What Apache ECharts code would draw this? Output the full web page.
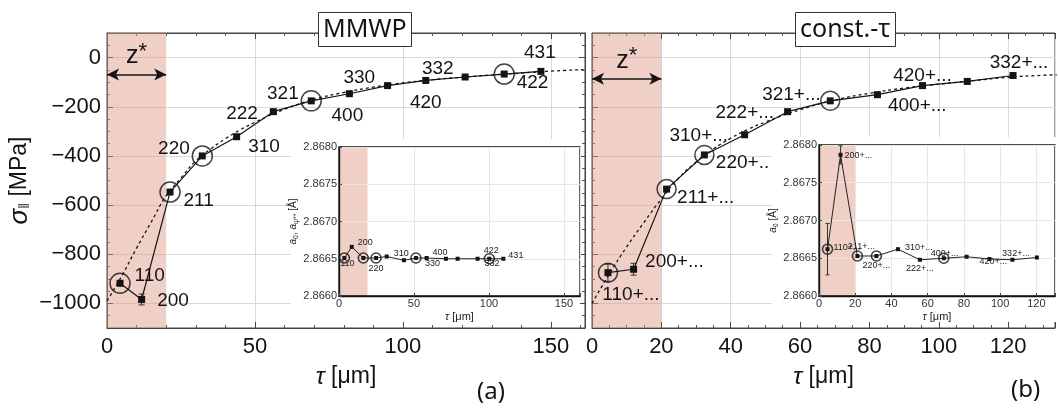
<!DOCTYPE html>
<html><head><meta charset="utf-8">
<script src="https://cdn.jsdelivr.net/npm/echarts@6/dist/echarts.min.js"></script>
<style>html,body{margin:0;padding:0;background:#fff}#c{width:1058px;height:409px}</style>
</head><body><div id="c"></div><script>
// ---------------- DATA ----------------
// Panel (a) main: sigma_par [MPa] vs tau [um], MMWP
const hklA = ['110','200','211','220','310','222','321','400','330','420','332','422','431'];
const tauA = [4.4, 11.7, 21.3, 32.2, 43.8, 56.2, 69.0, 81.9, 94.8, 107.7, 121.0, 134.2, 146.6];
const sigmaA = [-918, -984, -547, -400, -322, -220, -176, -147, -114, -93, -79, -67, -56];
const sigmaErrA = [10, 22, 0, 0, 0, 0, 0, 0, 0, 0, 0, 0, 0];
const circledA = ['110','211','220','321','422'];
const fitTauA = [0, 5, 10, 15, 20, 25, 30, 35, 40, 45, 50, 60, 70, 80, 90, 100, 110, 120, 130, 140, 150, 161];
const fitSigmaA = [-990, -888, -775, -668, -562, -490, -420, -372, -330, -294, -263, -210, -170, -142, -120, -103, -90, -80, -71, -63, -55, -49];

// Panel (a) inset: a0, a_psi** [A] vs tau [um]
const insetHklA = ['110','200','','220','310','','','400','330','','332','422','431'];
const insetTauA = [3.6, 8.5, 16.2, 24.7, 31.8, 43.3, 51.3, 58.4, 71.3, 79.1, 92.4, 100.2, 109.6];
const insetA0A = [2.86651, 2.86666, 2.86651, 2.86651, 2.86653, 2.86648, 2.86651, 2.86651, 2.86650, 2.86650, 2.86650, 2.86650, 2.86650];
const insetCircledIdxA = [0, 2, 3, 6, 11];

// Panel (b) main: const.-tau
const hklB = ['110+...','200+...','211+...','220+..','310+...','222+...','321+...','400+...','420+...','','332+...'];
const tauB = [4.6, 12.0, 21.5, 32.4, 44.0, 56.4, 68.7, 82.3, 95.3, 108.2, 121.4];
const sigmaB = [-875, -861, -535, -396, -314, -220, -176, -151, -114, -97, -73];
const sigmaErrB = [35, 24, 0, 0, 0, 0, 0, 0, 0, 0, 0];
const circledIdxB = [0, 2, 3, 6];
const fitTauB = [0, 5, 10, 15, 20, 25, 30, 35, 40, 45, 50, 60, 70, 80, 90, 100, 110, 120, 130, 134];
const fitSigmaB = [-1000, -880, -770, -670, -575, -490, -425, -372, -328, -292, -262, -212, -173, -145, -124, -108, -94, -80, -72, -70];

// Panel (b) inset: a0 [A]
const insetHklB = ['110+...','200+...','211+...','220+...','310+...','222+...','','400+...','420+...','','332+...'];
const insetTauB = [4.7, 11.9, 21.2, 31.7, 43.6, 55.7, 68.9, 81.5, 94.1, 106.8, 120.3];
const insetA0B = [2.86662, 2.86787, 2.86653, 2.86653, 2.86662, 2.86648, 2.86650, 2.86652, 2.86649, 2.86648, 2.86651];
const insetErrB = [0.00034, 0.00012, 0, 0, 0, 0, 0, 0, 0, 0, 0];
const insetCircledIdxB = [0, 2, 3, 6];

// shaded z* zones and annotations
const zZoneMain = [0, 20];
const zZoneInsetA = [0, 19];
const zZoneInsetB = [0, 20];
const zArrowY = [-69, -86];
const a0Ref = 2.8665;

// ---------------- STYLE (label placement) ----------------
const placeA = [['right',6,-7],['right',7,1],['right',5,9],['left',-4,-7],['right',3,10],['left',-7,2],['left',-4,-7],
  ['bottom',-2,4],['left',-4,-8],['bottom',0,4],['left',-3,-8],['right',4,9],['top',-1,-1]];
const placeB = [['bottom',23,4],['right',3,-7],['right',2,9],['right',3,8],['left',-8,1],['left',-5,1],['left',-1,-6],
  ['right',2,11],['top',0,8],null,['top',6,5]];
const placeInsetA = [['bottom',3,-4],['right',1,-4],null,['bottom',0,1],['right',2,-3],null,null,['right',1,-5],
  ['left',-1,5],null,['right',2,5],['top',2,1],['right',0,-3]];
const placeInsetB = [['right',1,-2],['right',-1,1],['top',4,0],['bottom',0,0],['right',2,-2],['bottom',0,-1],null,
  ['left',-3,-3],['bottom',4,-7],null,['left',-2,-4]];

const FONT = '"Liberation Sans", Arial, sans-serif';
const INK = '#141414';

function ptData(taus, vals, labels, places) {
  return taus.map((t, i) => {
    const p = places[i];
    const d = { value: [t, vals[i]] };
    if (labels[i] && p) d.label = { show: true, formatter: labels[i], position: p[0], offset: [p[1], p[2]] };
    return d;
  });
}
function errData(taus, vals, errs) {
  const out = [];
  taus.forEach((t, i) => { if (errs[i] > 0) out.push([t, vals[i] - errs[i], vals[i] + errs[i]]); });
  return out;
}
function errRender(cap) {
  return function (params, api) {
    const x = api.value(0), lo = api.value(1), hi = api.value(2);
    const a = api.coord([x, lo]), b = api.coord([x, hi]);
    const st = { stroke: '#333', lineWidth: 1 };
    return { type: 'group', children: [
      { type: 'line', shape: { x1: a[0], y1: a[1], x2: b[0], y2: b[1] }, style: st },
      { type: 'line', shape: { x1: a[0] - cap, y1: a[1], x2: a[0] + cap, y2: a[1] }, style: st },
      { type: 'line', shape: { x1: b[0] - cap, y1: b[1], x2: b[0] + cap, y2: b[1] }, style: st }
    ]};
  };
}
function stepFmt(step, f) {
  return v => { const k = Math.round(v / step); if (Math.abs(v - k * step) > step * 1e-6) return ''; return f ? f(v) : String(v); };
}
const minusFmt = v => (v < 0 ? '\u2212' + Math.abs(v) : String(v));

const mainTick = { show: true, inside: true, length: 6, lineStyle: { color: '#444' } };
const mainMinor = (n) => ({ show: true, splitNumber: n, length: 3, lineStyle: { color: '#555' } });
const mainSplit = { show: true, lineStyle: { color: '#d9d9d9', width: 1 } };
const insetSplit = { show: true, lineStyle: { color: '#e6e6e6', width: 1 } };
const axLine = { show: true, onZero: false, lineStyle: { color: '#444', width: 1 } };
const inAxLine = { show: true, onZero: false, lineStyle: { color: '#111', width: 1.3 } };

const zArrowLabel = {
  show: true, position: 'middle', distance: 2, formatter: '{z|z}{s|*}',
  rich: { z: { fontSize: 25, fontFamily: FONT, color: INK }, s: { fontSize: 22, fontFamily: FONT, color: INK, padding: [0, 0, 10, 0] } }
};
const shade = 'rgba(222,150,128,0.45)';

const option = {
  animation: false,
  backgroundColor: '#fff',
  title: [
    { text: 'MMWP', left: 318, top: 12, padding: [3, 5, 2, 5], backgroundColor: '#fff', borderColor: '#333', borderWidth: 1,
      textStyle: { fontFamily: '"Noto Sans"', fontSize: 25, fontWeight: 'normal', color: INK, lineHeight: 30 } },
    { text: 'const.-\u03c4', left: 795, top: 12, padding: [3, 5, 2, 5], backgroundColor: '#fff', borderColor: '#333', borderWidth: 1,
      textStyle: { fontFamily: '"Noto Sans"', fontSize: 25, fontWeight: 'normal', color: INK, lineHeight: 30 } },
    { text: '(a)', left: 477, top: 380, padding: 0, textStyle: { fontFamily: '"Noto Sans"', fontSize: 24, fontWeight: 'normal', color: INK } },
    { text: '(b)', left: 1011, top: 378, padding: 0, textStyle: { fontFamily: '"Noto Sans"', fontSize: 24, fontWeight: 'normal', color: INK } }
  ],
  graphic: [
    { type: 'rect', shape: { x: 291, y: 139, width: 289, height: 183 }, style: { fill: '#fff' }, z: 1, silent: true },
    { type: 'rect', shape: { x: 772, y: 137, width: 290, height: 185 }, style: { fill: '#fff' }, z: 1, silent: true }
  ],
  grid: [
    { left: 107, top: 33, width: 478, height: 295, show: true, borderColor: '#444', borderWidth: 1, z: 0 },
    { left: 592, top: 33, width: 478, height: 295, show: true, borderColor: '#444', borderWidth: 1, z: 0 },
    { left: 339, top: 147, width: 241, height: 149, show: true, borderColor: '#111', borderWidth: 1.3, z: 3 },
    { left: 819, top: 145, width: 241, height: 151, show: true, borderColor: '#111', borderWidth: 1.3, z: 3 }
  ],
  xAxis: [
    { gridIndex: 0, type: 'value', min: 0, max: 161.5, interval: 50, position: 'bottom',
      axisLine: axLine, axisTick: mainTick, minorTick: mainMinor(5), splitLine: mainSplit,
      axisLabel: { formatter: stepFmt(50), fontFamily: FONT, fontSize: 22, color: INK, margin: 8 },
      name: '{i|\u03c4} [\u03bcm]', nameLocation: 'middle', nameGap: 37,
      nameTextStyle: { fontFamily: FONT, fontSize: 23, color: INK, rich: { i: { fontFamily: FONT, fontStyle: 'italic', fontSize: 24, color: INK } } } },
    { gridIndex: 1, type: 'value', min: 0, max: 133.5, interval: 20, position: 'bottom',
      axisLine: axLine, axisTick: mainTick, minorTick: mainMinor(4), splitLine: mainSplit,
      axisLabel: { formatter: stepFmt(20), fontFamily: FONT, fontSize: 22, color: INK, margin: 8 },
      name: '{i|\u03c4} [\u03bcm]', nameLocation: 'middle', nameGap: 37,
      nameTextStyle: { fontFamily: FONT, fontSize: 23, color: INK, rich: { i: { fontFamily: FONT, fontStyle: 'italic', fontSize: 24, color: INK } } } },
    { gridIndex: 2, type: 'value', min: 0, max: 160.7, interval: 50, z: 3, position: 'bottom',
      axisLine: inAxLine, axisTick: { show: true, inside: true, length: 3, lineStyle: { color: '#444' } },
      splitLine: insetSplit,
      axisLabel: { formatter: stepFmt(50), fontFamily: FONT, fontSize: 11, color: '#333', margin: 2 },
      name: '{i|\u03c4} [\u03bcm]', nameLocation: 'middle', nameGap: 15,
      nameTextStyle: { fontFamily: FONT, fontSize: 11, color: '#222', rich: { i: { fontFamily: FONT, fontStyle: 'italic', fontSize: 11, color: '#222' } } } },
    { gridIndex: 3, type: 'value', min: 0, max: 130.3, interval: 20, z: 3, position: 'bottom',
      axisLine: inAxLine, axisTick: { show: true, inside: true, length: 3, lineStyle: { color: '#444' } },
      splitLine: insetSplit,
      axisLabel: { formatter: stepFmt(20), fontFamily: FONT, fontSize: 11, color: '#333', margin: 2 },
      name: '{i|\u03c4} [\u03bcm]', nameLocation: 'middle', nameGap: 15,
      nameTextStyle: { fontFamily: FONT, fontSize: 11, color: '#222', rich: { i: { fontFamily: FONT, fontStyle: 'italic', fontSize: 11, color: '#222' } } } },
    { gridIndex: 0, type: 'value', min: 0, max: 161.5, interval: 50, position: 'top',
      axisLine: axLine, axisTick: mainTick, minorTick: mainMinor(5), splitLine: { show: false }, axisLabel: { show: false } },
    { gridIndex: 1, type: 'value', min: 0, max: 133.5, interval: 20, position: 'top',
      axisLine: axLine, axisTick: mainTick, minorTick: mainMinor(4), splitLine: { show: false }, axisLabel: { show: false } }
  ],
  yAxis: [
    { gridIndex: 0, type: 'value', min: -1100, max: 100, splitNumber: 6, position: 'left',
      axisLine: axLine, axisTick: mainTick, minorTick: mainMinor(4), splitLine: mainSplit,
      axisLabel: { formatter: stepFmt(200, minusFmt), fontFamily: FONT, fontSize: 22, color: INK, margin: 6 },
      name: '{i|\u03c3}{s|\u2016} [MPa]', nameLocation: 'middle', nameRotate: 90, nameGap: 74,
      nameTextStyle: { fontFamily: FONT, fontSize: 23, color: INK,
        rich: { i: { fontFamily: FONT, fontStyle: 'italic', fontSize: 26, color: INK }, s: { fontFamily: FONT, fontSize: 14, color: INK, padding: [10, 0, 0, 0] } } } },
    { gridIndex: 1, type: 'value', min: -1100, max: 100, splitNumber: 6, position: 'left',
      axisLine: axLine, axisTick: mainTick, minorTick: mainMinor(4), splitLine: mainSplit,
      axisLabel: { show: false } },
    { gridIndex: 2, type: 'value', min: 2.866, max: 2.868, interval: 0.0005, z: 3, position: 'left',
      axisLine: inAxLine, axisTick: { show: true, inside: true, length: 3, lineStyle: { color: '#444' } },
      splitLine: insetSplit,
      axisLabel: { formatter: stepFmt(0.0005, v => v.toFixed(4)), fontFamily: FONT, fontSize: 11, color: '#333', margin: 2 },
      name: '{i|a}{s|0}, {i|a}{s|\u03c8**} [\u00c5]', nameLocation: 'middle', nameRotate: 90, nameGap: 35,
      nameTextStyle: { fontFamily: FONT, fontSize: 10, color: '#222',
        rich: { i: { fontFamily: FONT, fontStyle: 'italic', fontSize: 10, color: '#222' }, s: { fontFamily: FONT, fontSize: 7, color: '#222', padding: [5, 0, 0, 0] } } } },
    { gridIndex: 3, type: 'value', min: 2.866, max: 2.868, interval: 0.0005, z: 3, position: 'left',
      axisLine: inAxLine, axisTick: { show: true, inside: true, length: 3, lineStyle: { color: '#444' } },
      splitLine: insetSplit,
      axisLabel: { formatter: stepFmt(0.0005, v => v.toFixed(4)), fontFamily: FONT, fontSize: 11, color: '#333', margin: 2 },
      name: '{i|a}{s|0} [\u00c5]', nameLocation: 'middle', nameRotate: 90, nameGap: 35,
      nameTextStyle: { fontFamily: FONT, fontSize: 10, color: '#222',
        rich: { i: { fontFamily: FONT, fontStyle: 'italic', fontSize: 10, color: '#222' }, s: { fontFamily: FONT, fontSize: 7, color: '#222', padding: [5, 0, 0, 0] } } } },
    { gridIndex: 0, type: 'value', min: -1100, max: 100, splitNumber: 6, position: 'right',
      axisLine: axLine, axisTick: mainTick, minorTick: mainMinor(4), splitLine: { show: false }, axisLabel: { show: false } }
  ],
  series: [
    // ---- (a) main ----
    { type: 'line', xAxisIndex: 0, yAxisIndex: 0, z: 2, symbol: 'none', smooth: true,
      data: fitTauA.map((t, i) => [t, fitSigmaA[i]]),
      lineStyle: { color: INK, width: 1.3, type: [3, 3] },
      markArea: { silent: true, itemStyle: { color: shade }, data: [[{ xAxis: zZoneMain[0] }, { xAxis: zZoneMain[1] }]] },
      markLine: { silent: true, symbol: ['arrow', 'arrow'], symbolSize: [9, 12], lineStyle: { color: INK, width: 1.6, type: 'solid' },
        label: zArrowLabel, data: [[{ coord: [zZoneMain[0], zArrowY[0]] }, { coord: [zZoneMain[1], zArrowY[0]] }]] } },
    { type: 'line', xAxisIndex: 0, yAxisIndex: 0, z: 4, symbol: 'rect', symbolSize: 7,
      data: ptData(tauA, sigmaA, hklA, placeA),
      itemStyle: { color: INK }, lineStyle: { color: INK, width: 1.2 },
      label: { show: false, fontFamily: FONT, fontSize: 19, color: INK, distance: 5 } },
    { type: 'scatter', xAxisIndex: 0, yAxisIndex: 0, z: 5, symbol: 'circle', symbolSize: 20,
      data: tauA.map((t, i) => [t, sigmaA[i], hklA[i]]).filter(d => circledA.includes(d[2])).map(d => [d[0], d[1]]),
      itemStyle: { color: 'rgba(0,0,0,0)', borderColor: INK, borderWidth: 1.5 } },
    { type: 'custom', xAxisIndex: 0, yAxisIndex: 0, z: 4, renderItem: errRender(3), data: errData(tauA, sigmaA, sigmaErrA) },

    // ---- (b) main ----
    { type: 'line', xAxisIndex: 1, yAxisIndex: 1, z: 2, symbol: 'none', smooth: true,
      data: fitTauB.map((t, i) => [t, fitSigmaB[i]]),
      lineStyle: { color: INK, width: 1.3, type: [3, 3] },
      markArea: { silent: true, itemStyle: { color: shade }, data: [[{ xAxis: zZoneMain[0] }, { xAxis: zZoneMain[1] }]] },
      markLine: { silent: true, symbol: ['arrow', 'arrow'], symbolSize: [9, 12], lineStyle: { color: INK, width: 1.6, type: 'solid' },
        label: zArrowLabel, data: [[{ coord: [zZoneMain[0], zArrowY[1]] }, { coord: [zZoneMain[1], zArrowY[1]] }]] } },
    { type: 'line', xAxisIndex: 1, yAxisIndex: 1, z: 4, symbol: 'rect', symbolSize: 7,
      data: ptData(tauB, sigmaB, hklB, placeB),
      itemStyle: { color: INK }, lineStyle: { color: INK, width: 1.2 },
      label: { show: false, fontFamily: FONT, fontSize: 19, color: INK, distance: 5 } },
    { type: 'scatter', xAxisIndex: 1, yAxisIndex: 1, z: 5, symbol: 'circle', symbolSize: 19,
      data: circledIdxB.map(i => [tauB[i], sigmaB[i]]),
      itemStyle: { color: 'rgba(0,0,0,0)', borderColor: INK, borderWidth: 1.5 } },
    { type: 'custom', xAxisIndex: 1, yAxisIndex: 1, z: 4, renderItem: errRender(3), data: errData(tauB, sigmaB, sigmaErrB) },

    // ---- (a) inset ----
    { type: 'line', xAxisIndex: 2, yAxisIndex: 2, z: 6, symbol: 'rect', symbolSize: 4,
      data: ptData(insetTauA, insetA0A, insetHklA, placeInsetA),
      itemStyle: { color: INK }, lineStyle: { color: '#222', width: 1 },
      label: { show: false, fontFamily: FONT, fontSize: 9, color: '#222', distance: 3 },
      markArea: { silent: true, itemStyle: { color: shade }, data: [[{ xAxis: zZoneInsetA[0] }, { xAxis: zZoneInsetA[1] }]] },
      markLine: { silent: true, symbol: 'none', label: { show: false }, lineStyle: { color: '#222', width: 1, type: [2, 2] }, data: [{ yAxis: a0Ref }] } },
    { type: 'scatter', xAxisIndex: 2, yAxisIndex: 2, z: 7, symbol: 'circle', symbolSize: 10,
      data: insetCircledIdxA.map(i => [insetTauA[i], insetA0A[i]]),
      itemStyle: { color: 'rgba(0,0,0,0)', borderColor: INK, borderWidth: 1.6 } },

    // ---- (b) inset ----
    { type: 'line', xAxisIndex: 3, yAxisIndex: 3, z: 6, symbol: 'rect', symbolSize: 4,
      data: ptData(insetTauB, insetA0B, insetHklB, placeInsetB),
      itemStyle: { color: INK }, lineStyle: { color: '#222', width: 1 },
      label: { show: false, fontFamily: FONT, fontSize: 9, color: '#222', distance: 3 },
      markArea: { silent: true, itemStyle: { color: shade }, data: [[{ xAxis: zZoneInsetB[0] }, { xAxis: zZoneInsetB[1] }]] },
      markLine: { silent: true, symbol: 'none', label: { show: false }, lineStyle: { color: '#222', width: 1, type: [2, 2] }, data: [{ yAxis: a0Ref }] } },
    { type: 'scatter', xAxisIndex: 3, yAxisIndex: 3, z: 7, symbol: 'circle', symbolSize: 10,
      data: insetCircledIdxB.map(i => [insetTauB[i], insetA0B[i]]),
      itemStyle: { color: 'rgba(0,0,0,0)', borderColor: INK, borderWidth: 1.6 } },
    { type: 'custom', xAxisIndex: 3, yAxisIndex: 3, z: 6, renderItem: errRender(2), data: errData(insetTauB, insetA0B, insetErrB) }
  ]
};
const chart = echarts.init(document.getElementById('c'), null, { renderer: 'canvas' });
chart.setOption(option);
</script></body></html>
